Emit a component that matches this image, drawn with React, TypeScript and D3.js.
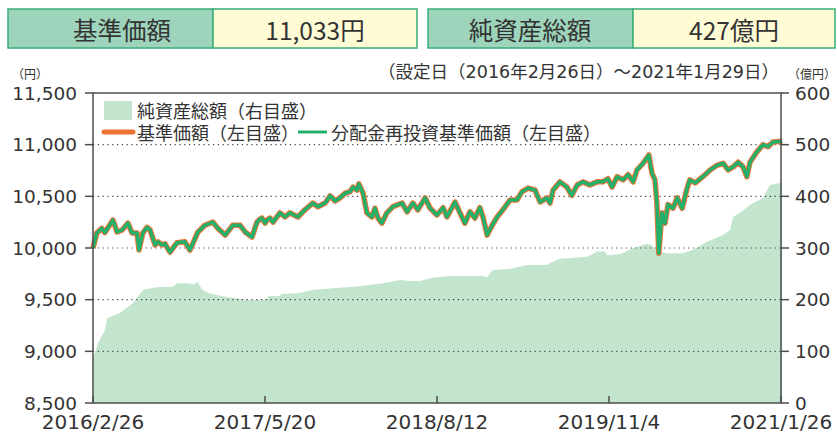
import React from 'react';
import * as d3 from 'd3';

// 基準価額（分配金再投資基準価額も同じ値）
const priceDates = [
  '2016-02-26', '2016-03-07', '2016-03-20', '2016-03-28', '2016-04-18', '2016-04-29', '2016-05-12', '2016-05-27',
  '2016-06-07', '2016-06-20', '2016-06-25', '2016-07-05', '2016-07-16', '2016-07-24', '2016-08-06', '2016-08-14',
  '2016-08-24', '2016-09-01', '2016-09-14', '2016-10-02', '2016-10-23', '2016-11-05', '2016-11-26', '2016-12-14',
  '2017-01-04', '2017-01-17', '2017-02-05', '2017-02-25', '2017-03-16', '2017-03-29', '2017-04-16', '2017-04-29',
  '2017-05-07', '2017-05-12', '2017-05-20', '2017-05-25', '2017-06-02', '2017-06-10', '2017-06-28', '2017-07-11',
  '2017-07-24', '2017-08-14', '2017-09-01', '2017-09-22', '2017-10-05', '2017-10-24', '2017-11-06', '2017-11-19',
  '2017-12-02', '2017-12-15', '2017-12-28', '2018-01-05', '2018-01-15', '2018-01-20', '2018-01-31', '2018-02-10',
  '2018-02-23', '2018-03-03', '2018-03-11', '2018-03-21', '2018-04-03', '2018-04-19', '2018-05-13', '2018-05-26',
  '2018-06-10', '2018-06-23', '2018-07-12', '2018-07-25', '2018-08-12', '2018-08-28', '2018-09-07', '2018-09-28',
  '2018-10-11', '2018-10-24', '2018-11-06', '2018-11-19', '2018-12-02', '2018-12-10', '2018-12-21', '2019-01-03',
  '2019-01-16', '2019-01-31', '2019-02-19', '2019-03-09', '2019-03-22', '2019-04-07', '2019-04-25', '2019-05-08',
  '2019-05-26', '2019-06-03', '2019-06-11', '2019-06-29', '2019-07-17', '2019-07-30', '2019-08-13', '2019-08-28',
  '2019-09-15', '2019-10-04', '2019-10-19', '2019-11-01', '2019-11-12', '2019-11-25', '2019-12-11', '2019-12-24',
  '2020-01-06', '2020-01-16', '2020-02-01', '2020-02-16', '2020-02-24', '2020-03-03', '2020-03-08', '2020-03-13',
  '2020-03-21', '2020-03-29', '2020-04-06', '2020-04-19', '2020-04-30', '2020-05-13', '2020-05-26', '2020-06-02',
  '2020-06-16', '2020-07-06', '2020-07-25', '2020-08-12', '2020-08-28', '2020-09-10', '2020-09-23', '2020-10-06',
  '2020-10-19', '2020-10-29', '2020-11-06', '2020-11-24', '2020-12-10', '2020-12-23', '2021-01-05', '2021-01-29'
];
const priceValues = [
  10000, 10145, 10190, 10150, 10270, 10155, 10175, 10240,
  10145, 10145, 9980, 10145, 10200, 10175, 10030, 10060,
  10030, 10040, 9960, 10050, 10060, 9980, 10155, 10220,
  10250, 10190, 10125, 10220, 10220, 10155, 10105, 10250,
  10280, 10290, 10240, 10270, 10290, 10250, 10340, 10300,
  10340, 10300, 10370, 10435, 10400, 10435, 10505, 10455,
  10485, 10530, 10545, 10590, 10560, 10620, 10530, 10340,
  10300, 10385, 10290, 10240, 10340, 10400, 10435, 10350,
  10435, 10370, 10485, 10385, 10320, 10390, 10300, 10445,
  10340, 10240, 10350, 10290, 10390, 10300, 10125, 10220,
  10300, 10370, 10465, 10465, 10545, 10580, 10560, 10445,
  10485, 10435, 10560, 10640, 10590, 10510, 10610, 10640,
  10610, 10640, 10640, 10670, 10590, 10690, 10660, 10710,
  10640, 10755, 10820, 10900, 10725, 10660, 10435, 9950,
  10340, 10240, 10420, 10385, 10485, 10385, 10580, 10660,
  10630, 10690, 10755, 10800, 10820, 10755, 10785, 10830,
  10785, 10690, 10830, 10930, 11000, 10980, 11025, 11033
];
const reinvestValues = priceValues;

// 純資産総額（億円）
const assetDates = [
  '2016-02-26', '2016-03-10', '2016-03-28', '2016-04-03', '2016-05-06', '2016-06-09', '2016-07-06', '2016-08-11',
  '2016-09-22', '2016-10-02', '2016-10-28', '2016-11-13', '2016-11-26', '2016-12-07', '2016-12-27', '2017-02-10',
  '2017-04-03', '2017-05-25', '2017-05-28', '2017-06-28', '2017-07-03', '2017-08-19', '2017-09-22', '2017-11-14',
  '2018-01-23', '2018-03-24', '2018-05-07', '2018-06-03', '2018-06-29', '2018-08-02', '2018-09-23', '2018-12-10',
  '2018-12-21', '2019-01-03', '2019-02-19', '2019-04-04', '2019-05-26', '2019-06-03', '2019-06-29', '2019-09-08',
  '2019-10-04', '2019-10-25', '2019-10-30', '2019-12-03', '2020-01-06', '2020-02-11', '2020-02-24', '2020-03-08',
  '2020-04-03', '2020-05-15', '2020-06-10', '2020-07-17', '2020-08-28', '2020-09-15', '2020-09-23', '2020-10-11',
  '2020-10-29', '2020-11-14', '2020-12-10', '2020-12-28', '2021-01-29'
];
const assetValues = [
  85, 116, 141, 164, 174, 193, 219, 224,
  225, 232, 232, 230, 234, 219, 212, 205,
  200, 200, 207, 207, 211, 213, 219, 222,
  226, 232, 238, 236, 236, 243, 246, 246,
  243, 257, 260, 267, 267, 271, 279, 283,
  293, 293, 286, 288, 300, 308, 306, 293,
  290, 290, 296, 312, 325, 335, 360, 368,
  379, 387, 397, 422, 427
];

const leftTicks = [8500, 9000, 9500, 10000, 10500, 11000, 11500];
const rightTicks = [0, 100, 200, 300, 400, 500, 600];
const xTickDates = ['2016-02-26', '2017-05-20', '2018-08-12', '2019-11-04', '2021-01-26'];
const xTickLabels = ['2016/2/26', '2017/5/20', '2018/8/12', '2019/11/4', '2021/1/26'];

const width = 837;
const height = 433;
const margins = { l: 93, t: 93, r: 56, b: 30 };
const font = '"Noto Sans CJK JP", "Noto Sans", sans-serif';
const numFont = '"DejaVu Sans", "Noto Sans CJK JP", sans-serif';
const textColor = '#333';
const axisColor = '#4d4d4d';
const orange = '#ec7235';
const green = '#24b06a';

const parse = d3.utcParse('%Y-%m-%d');

const App = () => {
  const x = d3
    .scaleUtc()
    .domain([parse(xTickDates[0]), parse(xTickDates[xTickDates.length - 1])])
    .range([margins.l, width - margins.r]);
  const yL = d3.scaleLinear().domain([8500, 11500]).range([height - margins.b, margins.t]);
  const yR = d3.scaleLinear().domain([0, 600]).range([height - margins.b, margins.t]);

  const price = priceDates.map((d, i) => ({ date: parse(d), v: priceValues[i] }));
  const reinvest = priceDates.map((d, i) => ({ date: parse(d), v: reinvestValues[i] }));
  const assets = assetDates.map((d, i) => ({ date: parse(d), v: assetValues[i] }));

  const area = d3
    .area<any>()
    .x(d => x(d.date))
    .y0(yR(0))
    .y1(d => yR(d.v));
  const line = d3
    .line<any>()
    .x(d => x(d.date))
    .y(d => yL(d.v));

  const x0 = margins.l;
  const x1 = width - margins.r;
  const yTop = margins.t;
  const yBot = height - margins.b;

  return (
    <svg width={width} height={height} style={{ position: 'absolute', left: 0, top: 0 }} fontFamily={font}>
      {/* header boxes */}
      <g>
        <rect x={8} y={9} width={205} height={39} fill="#9dd4bb" stroke="#3aae78" strokeWidth={1.5} />
        <rect x={213} y={9} width={204} height={39} fill="#fffbd5" stroke="#3aae78" strokeWidth={1.5} />
        <text x={122} y={29} textAnchor="middle" dominantBaseline="central" fontSize={24.5} fill={textColor}>基準価額</text>
        <text x={315} y={29} textAnchor="middle" dominantBaseline="central" fontSize={24.5} fill={textColor}>11,033円</text>
        <rect x={428} y={9} width={205} height={39} fill="#9dd4bb" stroke="#3aae78" strokeWidth={1.5} />
        <rect x={633} y={9} width={202} height={39} fill="#fffbd5" stroke="#3aae78" strokeWidth={1.5} />
        <text x={530} y={29} textAnchor="middle" dominantBaseline="central" fontSize={24.5} fill={textColor}>純資産総額</text>
        <text x={734} y={29} textAnchor="middle" dominantBaseline="central" fontSize={24.5} fill={textColor}>427億円</text>
      </g>

      <text x={12} y={73} fontSize={12} fill={textColor} dominantBaseline="central">（円）</text>
      <text x={836} y={73} fontSize={12} fill={textColor} textAnchor="end" dominantBaseline="central">（億円）</text>
      <text x={779} y={72} fontSize={17.5} fontFamily={numFont} fill={textColor} textAnchor="end" dominantBaseline="central">
        （設定日（2016年2月26日）～2021年1月29日）
      </text>

      {/* net assets */}
      <path d={area(assets) || ''} fill="#c4e5cd" />

      {/* grid */}
      {leftTicks.slice(1, -1).map(t => (
        <line key={t} x1={x0} x2={x1} y1={yL(t)} y2={yL(t)} stroke="#444" strokeWidth={1.2} strokeDasharray="1.2 3.6" />
      ))}

      {/* price lines */}
      <path d={line(price) || ''} fill="none" stroke={orange} strokeWidth={5.5} strokeLinejoin="round" />
      <path d={line(reinvest) || ''} fill="none" stroke={green} strokeWidth={3.5} strokeLinejoin="round" />

      {/* frame and axes */}
      <rect x={x0} y={yTop} width={x1 - x0} height={yBot - yTop} fill="none" stroke={axisColor} strokeWidth={1.5} />
      {leftTicks.map(t => (
        <g key={t}>
          <line x1={x0 - 8} x2={x0} y1={yL(t)} y2={yL(t)} stroke={axisColor} strokeWidth={1.5} />
          <text x={77} y={yL(t)} textAnchor="end" dominantBaseline="central" fontSize={18.5} fontFamily={numFont} fill={textColor}>
            {d3.format(',')(t)}
          </text>
        </g>
      ))}
      {rightTicks.map(t => (
        <g key={t}>
          <line x1={x1} x2={x1 + 8} y1={yR(t)} y2={yR(t)} stroke={axisColor} strokeWidth={1.5} />
          <text x={795} y={yR(t)} textAnchor="start" dominantBaseline="central" fontSize={18.5} fontFamily={numFont} fill={textColor}>
            {t}
          </text>
        </g>
      ))}
      {xTickDates.map((d, i) => (
        <g key={d}>
          <line x1={x(parse(d))} x2={x(parse(d))} y1={yBot} y2={yBot - 7} stroke={axisColor} strokeWidth={1.5} />
          <text x={x(parse(d))} y={429} textAnchor="middle" fontSize={20} fontFamily={numFont} fill={textColor}>
            {xTickLabels[i]}
          </text>
        </g>
      ))}

      {/* legend */}
      <rect x={104} y={101} width={28} height={19} fill="#c4e5cd" />
      <text x={137} y={110} dominantBaseline="central" fontSize={18} fill={textColor}>純資産総額（右目盛）</text>
      <line x1={104} x2={133} y1={132} y2={132} stroke={orange} strokeWidth={5} strokeLinecap="round" />
      <text x={137} y={132} dominantBaseline="central" fontSize={18} fill={textColor}>基準価額（左目盛）</text>
      <line x1={298} x2={327} y1={132} y2={132} stroke={green} strokeWidth={3} />
      <text x={331} y={132} dominantBaseline="central" fontSize={18} fill={textColor}>分配金再投資基準価額（左目盛）</text>
    </svg>
  );
};

export default App;
